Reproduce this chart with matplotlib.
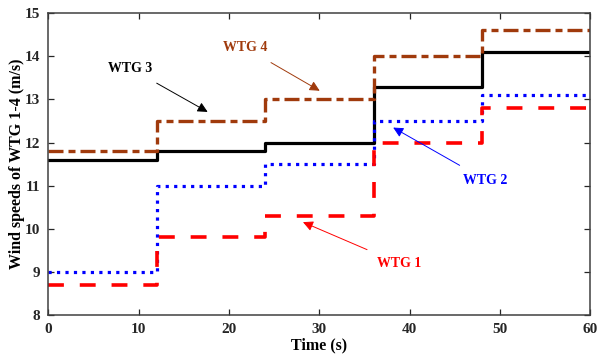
import numpy as np
import matplotlib.pyplot as plt

plt.rcParams['font.family'] = ['Liberation Serif', 'DejaVu Serif']
plt.rcParams['font.weight'] = 'bold'

# step times (s) and wind speeds (m/s) of each turbine
t_steps = [0, 12, 24, 36, 48, 60]
wtg1 = [8.7, 9.8, 10.3, 12.0, 12.8]
wtg2 = [9.0, 11.0, 11.5, 12.5, 13.1]
wtg3 = [11.6, 11.8, 12.0, 13.3, 14.1]
wtg4 = [11.8, 12.5, 13.0, 14.0, 14.6]

brown = '#A03A0C'

fig = plt.figure(figsize=(5.97, 3.58), dpi=100)
ax = fig.add_axes([0.081, 0.12, 0.908, 0.843])

def stair(vals):
    return vals + [vals[-1]]

ax.step(t_steps, stair(wtg3), where='post', color='black', lw=2.3)
ax.step(t_steps, stair(wtg4), where='post', color=brown, lw=2.4,
        dashes=(4.5, 1.5, 2.1, 1.5))
ax.step(t_steps, stair(wtg2), where='post', color='blue', lw=2.3,
        dashes=(1.0, 1.65), dash_capstyle='butt')
ax.step(t_steps, stair(wtg1), where='post', color='red', lw=2.6,
        dashes=(4.4, 4.4))

ax.set_xlim(0, 60)
ax.set_ylim(8, 15)
ax.set_xticks(np.arange(0, 61, 10))
ax.set_yticks(np.arange(8, 16, 1))
ax.tick_params(direction='in', top=True, right=True, labelsize=11,
               colors='#262626', length=4, width=0.9, pad=6)
for lab in ax.get_xticklabels() + ax.get_yticklabels():
    lab.set_fontweight('bold')
for s in ax.spines.values():
    s.set_color('#404040')
    s.set_linewidth(1.1)

ax.set_xlabel('Time (s)', fontsize=11.5, fontweight='bold', labelpad=1)
ax.set_ylabel('Wind speeds of WTG 1-4 (m/s)', fontsize=11.5,
              fontweight='bold', labelpad=0)

ann = dict(fontsize=10, fontweight='bold')
arrow = dict(arrowstyle='-|>', lw=0.7, mutation_scale=15, shrinkA=8)
ax.annotate('WTG 4', xy=(30.3, 13.17), xytext=(21.8, 14.2), color=brown,
            ha='center', va='center', arrowprops=dict(arrow, color=brown),
            **ann)
ax.annotate('WTG 3', xy=(17.9, 12.68), xytext=(9.1, 13.72), color='black',
            ha='center', va='center', arrowprops=dict(arrow, color='black'),
            **ann)
ax.annotate('WTG 2', xy=(37.9, 12.38), xytext=(48.4, 11.13), color='blue',
            ha='center', va='center', arrowprops=dict(arrow, color='blue'),
            **ann)
ax.annotate('WTG 1', xy=(27.9, 10.18), xytext=(38.8, 9.2), color='red',
            ha='center', va='center', arrowprops=dict(arrow, color='red'),
            **ann)

fig.savefig('out.png', dpi=100)
